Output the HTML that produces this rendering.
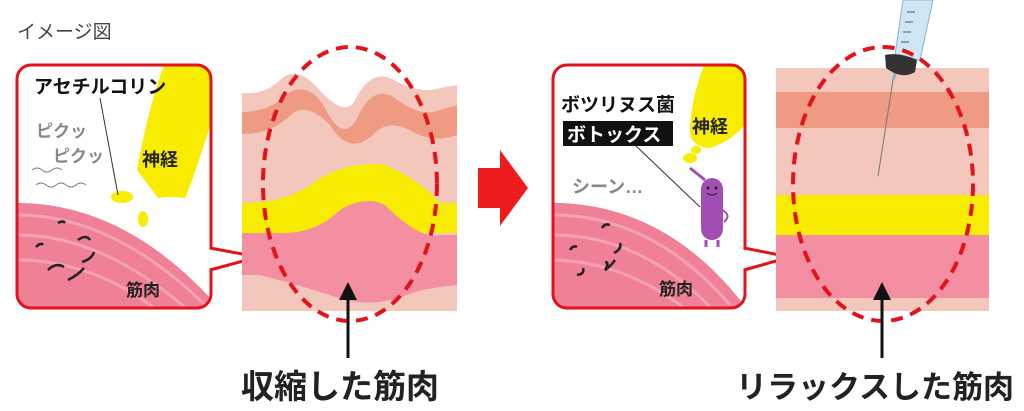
<!DOCTYPE html>
<html><head><meta charset="utf-8">
<style>
html,body{margin:0;padding:0;background:#fff;}
svg{display:block;}
text{font-family:"Liberation Sans","Noto Sans CJK JP",sans-serif;}
</style></head><body>
<svg width="1024" height="411" viewBox="0 0 1024 411" xmlns="http://www.w3.org/2000/svg">
<text x="17" y="38" font-size="19" fill="#444">イメージ図</text>

<defs>
<clipPath id="cl"><rect x="17" y="65" width="194" height="243" rx="14"/></clipPath>
<clipPath id="cr"><rect x="553" y="65" width="192" height="243" rx="14"/></clipPath>
<clipPath id="tl"><rect x="242" y="60" width="215" height="251"/></clipPath>
</defs>
<g clip-path="url(#cl)">
<rect x="15" y="63" width="200" height="250" fill="#fff"/>
<path d="M10 203 Q120 200 212 300 L215 315 L10 315Z" fill="#ef8095"/>
<path d="M10 215 Q110 212 205 305" stroke="#f5a2b2" stroke-width="3" fill="none"/>
<path d="M10 235 Q100 232 190 312" stroke="#f5a2b2" stroke-width="3" fill="none"/>
<path d="M10 260 Q90 258 160 312" stroke="#f5a2b2" stroke-width="3" fill="none"/>
<path d="M165 63 L215 63 L215 110 Q195 175 185 198 Q170 196 158 198 L137 170 Q150 100 165 63Z" fill="#f8ec00"/>
<ellipse cx="122" cy="197" rx="11" ry="6" fill="#f8ec00"/>
<ellipse cx="143" cy="219" rx="5" ry="8" fill="#f8ec00"/>
</g>
<rect x="17" y="65" width="194" height="243" rx="14" fill="none" stroke="#e4121b" stroke-width="3"/>
<path d="M210 248 L258 257 L210 270" fill="#fff" stroke="#e4121b" stroke-width="3"/>
<rect x="207" y="250" width="5" height="18" fill="#fff"/>
<text x="34" y="93" font-size="19" font-weight="bold" fill="#111">アセチルコリン</text>
<line x1="100" y1="98" x2="118" y2="195" stroke="#333" stroke-width="1"/>
<text x="36" y="137" font-size="17" font-weight="bold" fill="#888">ピクッ</text>
<text x="53" y="162" font-size="17" font-weight="bold" fill="#888">ピクッ</text>
<path d="M32 170 q5 -4 10 0 t10 0 t10 0 M36 185 q5 -4 10 0 t10 0 t10 0 t10 0 t10 0" stroke="#777" fill="none" stroke-width="1"/>
<text x="142" y="166" font-size="18" font-weight="bold" fill="#222">神経</text>
<text x="126" y="296" font-size="17" font-weight="bold" fill="#222">筋肉</text>
<path d="M58 223 q5 -3 7 0 M36 247 q5 -5 7 -2 M78 240 q8 -6 12 0 M48 270 q8 -8 16 -3 M68 280 q10 -5 16 -12 M82 262 q10 -3 12 -10" stroke="#222" stroke-width="2.5" fill="none"/>

<!-- LEFT TISSUE -->
<g clip-path="url(#tl)">
<path d="M242 93 Q265 95 280 80 Q295 65 315 85 Q345 120 355 100 Q370 70 390 78 Q420 95 440 88 L457 85 L457 311 L242 311Z" fill="#f4c7bc"/>
<path d="M242 112 Q270 112 290 92 Q310 82 325 108 Q345 148 360 112 Q375 85 395 98 Q420 118 440 110 L457 105 L457 135 Q435 143 415 133 Q390 118 375 133 Q350 158 330 125 Q305 100 290 116 Q270 134 242 134Z" fill="#ef9a83"/>
<path d="M242 203 Q285 203 310 185 Q345 160 385 165 Q420 180 440 203 L457 203 L457 233 L242 233Z" fill="#f8ec00"/>
<path d="M242 233 L290 233 Q320 230 340 210 Q365 195 385 205 Q420 240 440 235 L457 235 L457 285 Q420 288 400 298 Q370 306 345 300 Q300 285 260 275 L242 275Z" fill="#f48ea1"/>
</g>
<ellipse cx="350" cy="184" rx="87" ry="137" fill="none" stroke="#e4121b" stroke-width="4" stroke-dasharray="12 8"/>
<line x1="348" y1="298" x2="348" y2="358" stroke="#111" stroke-width="3"/>
<path d="M339 300 L348 282 L357 300Z" fill="#111"/>
<text x="340" y="398" font-size="33" font-weight="bold" fill="#222" text-anchor="middle">収縮した筋肉</text>

<path d="M478 168 L500 168 L500 150 L528 188 L500 226 L500 208 L478 208Z" fill="#ee1c1c"/>

<!-- RIGHT CALLOUT -->
<g clip-path="url(#cr)">
<rect x="551" y="63" width="200" height="250" fill="#fff"/>
<path d="M545 203 Q660 200 740 300 L750 315 L545 315Z" fill="#ef8095"/>
<path d="M545 215 Q650 212 730 305" stroke="#f5a2b2" stroke-width="3" fill="none"/>
<path d="M545 235 Q640 232 715 312" stroke="#f5a2b2" stroke-width="3" fill="none"/>
<path d="M545 260 Q620 258 690 312" stroke="#f5a2b2" stroke-width="3" fill="none"/>
<path d="M705 63 L748 63 L748 120 Q735 140 710 148 Q695 148 690 135 Q690 100 705 63Z" fill="#f8ec00"/>
<ellipse cx="690" cy="158" rx="7" ry="5" fill="#f8ec00"/>
<ellipse cx="696" cy="150" rx="5" ry="4" fill="#f8ec00"/>
</g>
<rect x="553" y="65" width="192" height="243" rx="14" fill="none" stroke="#e4121b" stroke-width="3"/>
<path d="M744 248 L790 257 L744 270" fill="#fff" stroke="#e4121b" stroke-width="3"/>
<rect x="741" y="250" width="5" height="18" fill="#fff"/>
<text x="561" y="111" font-size="19" font-weight="bold" fill="#111">ボツリヌス菌</text>
<rect x="563" y="121" width="110" height="25" fill="#111"/>
<text x="567" y="141" font-size="19" font-weight="bold" fill="#fff">ボトックス</text>
<line x1="635" y1="145" x2="700" y2="207" stroke="#333" stroke-width="1"/>
<text x="692" y="133" font-size="18" font-weight="bold" fill="#222">神経</text>
<text x="572" y="193" font-size="18" font-weight="bold" fill="#888">シーン…</text>
<rect x="701" y="178" width="22" height="62" rx="11" fill="#a24eb4"/>
<path d="M705 180 L690 168" stroke="#a24eb4" stroke-width="3"/>
<path d="M722 210 q10 5 2 12" stroke="#a24eb4" stroke-width="2" fill="none"/>
<path d="M706 240 v7 M718 240 v7" stroke="#a24eb4" stroke-width="3"/>
<circle cx="708" cy="188" r="1.5" fill="#222"/><circle cx="716" cy="188" r="1.5" fill="#222"/>
<path d="M707 193 q5 4 10 0" stroke="#222" stroke-width="1" fill="none"/>
<text x="659" y="295" font-size="17" font-weight="bold" fill="#222">筋肉</text>
<path d="M602 228 q3 -5 8 -3 M570 250 q3 -5 7 -3 M620 243 q2 6 -6 10 M583 268 q2 6 -6 7 M605 262 q5 0 0 8 q5 -3 10 -10" stroke="#222" stroke-width="2.5" fill="none"/>

<!-- RIGHT TISSUE -->
<rect x="776" y="68" width="213" height="243" fill="#f4c7bc"/>
<rect x="776" y="92" width="213" height="36" fill="#ef9a83"/>
<rect x="776" y="195" width="213" height="40" fill="#f8ec00"/>
<rect x="776" y="235" width="213" height="63" fill="#f48ea1"/>
<line x1="893" y1="80" x2="878" y2="176" stroke="#777" stroke-width="1"/>
<path d="M893 80 L898 66" stroke="#8ab4cc" stroke-width="3"/>
<path d="M903 0 L933 0 L920 60 L895 55Z" fill="#cfe6f3" stroke="#8ab4cc" stroke-width="1"/>
<path d="M907 12 h8 M905 22 h8 M903 32 h8 M901 42 h8" stroke="#557" stroke-width="1"/>
<path d="M885 55 Q900 52 917 60 L915 72 Q902 80 886 68Z" fill="#333"/>
<ellipse cx="883" cy="184" rx="90" ry="137" fill="none" stroke="#e4121b" stroke-width="4" stroke-dasharray="12 8"/>
<line x1="882" y1="298" x2="882" y2="358" stroke="#111" stroke-width="3"/>
<path d="M873 300 L882 282 L891 300Z" fill="#111"/>
<text x="875" y="398" font-size="31" font-weight="bold" fill="#222" text-anchor="middle">リラックスした筋肉</text>
</svg>
</body></html>
